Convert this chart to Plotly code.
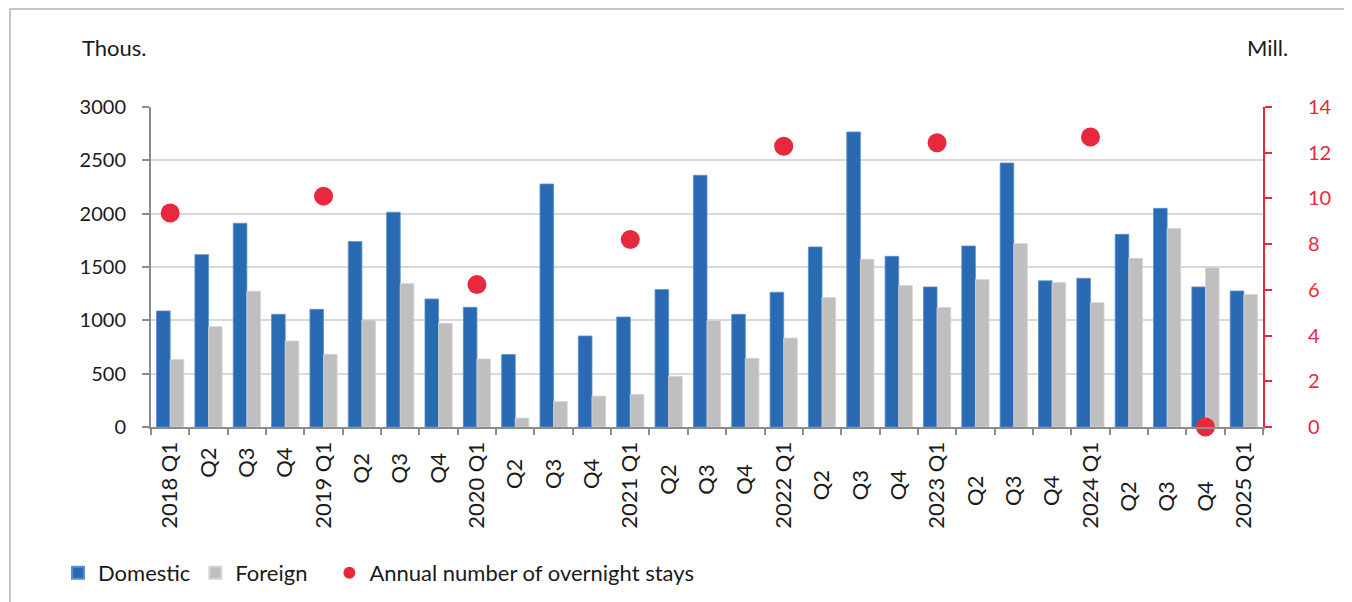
from plotly.graph_objects import Figure, Bar, Scatter

quarters = [
    '2018 Q1', 'Q2 ', 'Q3 ', 'Q4 ',
    '2019 Q1', 'Q2  ', 'Q3  ', 'Q4  ',
    '2020 Q1', 'Q2   ', 'Q3   ', 'Q4   ',
    '2021 Q1', 'Q2    ', 'Q3    ', 'Q4    ',
    '2022 Q1', 'Q2     ', 'Q3     ', 'Q4     ',
    '2023 Q1', 'Q2      ', 'Q3      ', 'Q4      ',
    '2024 Q1', 'Q2       ', 'Q3       ', 'Q4       ',
    '2025 Q1',
]
domestic = [
    1088, 1616, 1910, 1056,
    1103, 1738, 2013, 1200,
    1122, 679, 2278, 853,
    1031, 1288, 2360, 1056,
    1263, 1688, 2766, 1600,
    1313, 1697, 2475, 1370,
    1394, 1806, 2050, 1313,
    1275,
]
foreign = [
    632, 941, 1272, 806,
    681, 1003, 1344, 972,
    638, 84, 238, 290,
    306, 475, 997, 644,
    834, 1213, 1572, 1326,
    1120, 1382, 1719, 1354,
    1166, 1581, 1860, 1493,
    1242,
]
# million stays, shown at the first quarter of each year
annual_stays = [
    9.36, None, None, None,
    10.1, None, None, None,
    6.23, None, None, None,
    8.2, None, None, None,
    12.28, None, None, None,
    12.44, None, None, None,
    12.69, None, None, 0,
    None,
]

BLUE = '#2a6ab2'
GREY = '#bfbfbf'
RED = '#e8283c'
AXIS = '#8c8c8c'
FONT = 'Lato'

# the page body adds 8px around the figure
OFFSET = 8


def main():
    fig = Figure()
    fig.add_trace(Bar(x=quarters, y=domestic, name='Domestic',
                      marker={'color': BLUE, 'line': {'color': '#5b8fcc', 'width': 0.8}}))
    # padded name so the third legend entry sits where it does in the original
    fig.add_trace(Bar(x=quarters, y=foreign, name='Foreign\u00a0\u00a0\u00a0',
                      marker={'color': GREY, 'line': {'color': '#d4d4d4', 'width': 0.8}}))
    fig.add_trace(Scatter(x=quarters, y=annual_stays, name='Annual number of overnight stays',
                          mode='markers', yaxis='y2', cliponaxis=False,
                          marker={'color': RED, 'size': 19}))

    w, h = 1352 - OFFSET, 602 - OFFSET
    left, right, top, bottom = 151, 1263, 107, 427  # as seen on screen

    def px(x):
        return (x - left) / (right - left)

    def py(y):
        return (bottom - y) / (bottom - top)

    fig.update_layout(
        width=w, height=h,
        margin={'l': left - OFFSET, 'r': w - (right - OFFSET), 't': top - OFFSET,
                'b': h - (bottom - OFFSET), 'autoexpand': False},
        plot_bgcolor='white', paper_bgcolor='white',
        font={'family': FONT, 'size': 22, 'color': '#1a1a1a'},
        barmode='group', bargap=0.29, bargroupgap=0,
        showlegend=True,
        legend={'orientation': 'h', 'x': px(58), 'xanchor': 'left', 'y': py(573),
                'yanchor': 'middle', 'font': {'size': 22}, 'itemwidth': 30,
                'itemsizing': 'constant', 'traceorder': 'normal',
                'bgcolor': 'rgba(0,0,0,0)'},
        shapes=[{'type': 'rect', 'xref': 'paper', 'yref': 'paper',
                 'x0': px(10), 'x1': px(1380), 'y0': py(640), 'y1': py(9),
                 'line': {'color': '#c4c4c4', 'width': 2}, 'layer': 'below'}],
        annotations=[
            {'text': 'Thous.', 'xref': 'paper', 'yref': 'paper', 'x': px(80), 'y': py(47),
             'xanchor': 'left', 'yanchor': 'middle', 'showarrow': False},
            {'text': 'Mill.', 'xref': 'paper', 'yref': 'paper', 'x': px(1245), 'y': py(47),
             'xanchor': 'left', 'yanchor': 'middle', 'showarrow': False},
        ],
    )
    fig.update_xaxes(type='category', range=[-0.5, len(quarters) - 0.5], tickangle=-90,
                     showline=True, linecolor=AXIS, linewidth=2,
                     ticks='outside', tickson='boundaries', ticklen=6, tickcolor=AXIS,
                     tickwidth=2, ticklabelstandoff=4, showgrid=False,
                     tickfont={'size': 22, 'color': '#1a1a1a'})
    fig.update_layout(
        yaxis={'range': [0, 3000], 'dtick': 500, 'showline': True, 'linecolor': AXIS,
               'linewidth': 2, 'ticks': 'outside', 'ticklen': 7, 'tickcolor': AXIS,
               'tickwidth': 2, 'showgrid': True, 'gridcolor': '#d9d9d9', 'gridwidth': 2,
               'zeroline': False, 'ticklabelstandoff': 12, 'tickfont': {'size': 20}},
        yaxis2={'range': [0, 14], 'dtick': 2, 'overlaying': 'y', 'side': 'right',
                'showline': True, 'linecolor': RED, 'linewidth': 2, 'ticks': 'outside',
                'ticklen': 7, 'tickcolor': RED, 'tickwidth': 2, 'showgrid': False,
                'zeroline': False, 'tickfont': {'color': RED, 'size': 20},
                'ticklabelstandoff': 32},
    )
    fig.write_html('out.html')


if __name__ == '__main__':
    main()
